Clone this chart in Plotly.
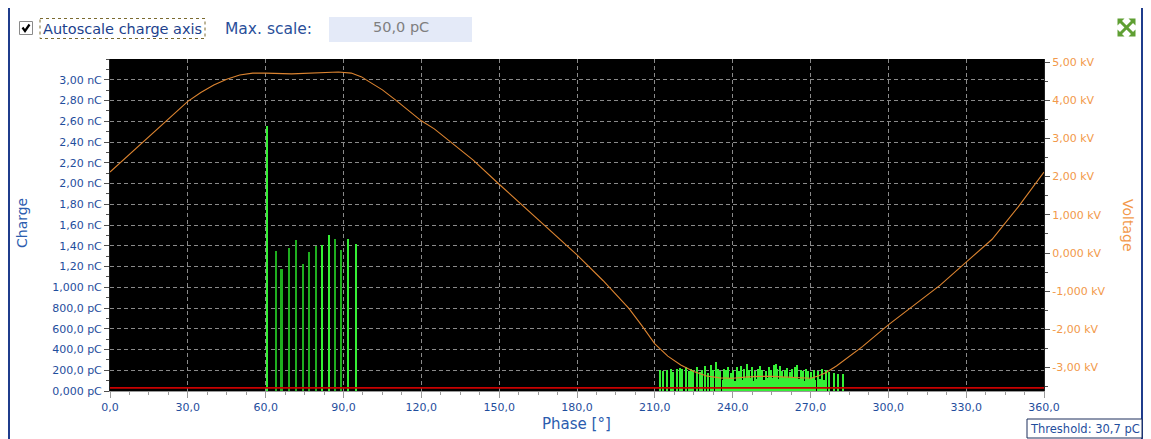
import plotly.graph_objects as go

# ---------------- data ----------------
# Phase axis ticks
phase_ticks = [0, 30, 60, 90, 120, 150, 180, 210, 240, 270, 300, 330, 360]
phase_labels = ["0,0", "30,0", "60,0", "90,0", "120,0", "150,0", "180,0",
                "210,0", "240,0", "270,0", "300,0", "330,0", "360,0"]

# Charge axis ticks (pC)
charge_ticks = [0, 200, 400, 600, 800, 1000, 1200, 1400, 1600, 1800,
                2000, 2200, 2400, 2600, 2800, 3000]
charge_labels = ["0,000 pC", "200,0 pC", "400,0 pC", "600,0 pC", "800,0 pC",
                 "1,000 nC", "1,20 nC", "1,40 nC", "1,60 nC", "1,80 nC",
                 "2,00 nC", "2,20 nC", "2,40 nC", "2,60 nC", "2,80 nC", "3,00 nC"]

# Voltage axis ticks (kV)
voltage_ticks = [-3, -2, -1, 0, 1, 2, 3, 4, 5]
voltage_labels = ["-3,00 kV", "-2,00 kV", "-1,000 kV", "0,000 kV", "1,000 kV",
                  "2,00 kV", "3,00 kV", "4,00 kV", "5,00 kV"]

# Test voltage over one cycle (phase in deg, kV)
volt_phase = [0, 5, 10, 15, 20, 25, 30, 35, 40, 45, 50, 55, 60, 70, 80, 88, 93,
              97, 100, 105, 110, 115, 120, 125, 130, 140, 150, 160, 170, 180,
              190, 200, 205, 210, 215, 220, 225, 230, 235, 240, 245, 250, 255,
              260, 265, 270, 273, 276, 280, 285, 290, 300, 310, 320, 330, 340,
              350, 360]
volt_kv = [2.12, 2.43, 2.72, 3.03, 3.35, 3.67, 3.97, 4.20, 4.40, 4.55, 4.66,
           4.71, 4.71, 4.69, 4.71, 4.74, 4.71, 4.61, 4.48, 4.27, 4.01, 3.74,
           3.46, 3.25, 2.98, 2.43, 1.80, 1.18, 0.57, -0.05, -0.72, -1.45,
           -1.90, -2.38, -2.70, -2.93, -3.10, -3.22, -3.27, -3.28, -3.25,
           -3.23, -3.23, -3.25, -3.27, -3.28, -3.22, -3.13, -2.96, -2.70,
           -2.45, -1.88, -1.36, -0.84, -0.24, 0.36, 1.20, 2.12]

# PD pulses in the positive half-cycle (phase deg, charge pC)
pos_phase_bright = [60.7, 81.8, 84.5, 91.9, 94.8]
pos_charge_bright = [2554, 1404, 1501, 1465, 1417]
pos_phase_dim = [63.9, 66.2, 69.0, 71.7, 74.4, 76.7, 79.6, 86.9, 89.1]
pos_charge_dim = [1347, 1176, 1375, 1455, 1224, 1337, 1398, 1465, 1359]

# PD pulses in the negative half-cycle
neg_phase = [212.1, 213.3, 214.6, 216.2, 217.2, 218.4, 219.6, 220.6, 221.9,
             223.0, 223.9, 224.8, 226.1, 227.4, 228.3, 229.3, 230.6, 231.6,
             232.5, 233.4, 234.3, 235.3, 236.6, 237.5, 238.4, 239.3, 240.3,
             241.5, 242.5, 243.4, 244.4, 245.7, 246.5, 247.6, 248.5, 249.6,
             250.6, 251.4, 252.7, 254.0, 254.9, 255.9, 256.6, 257.2, 258.2,
             259.1, 260.0, 261.1, 262.1, 263.0, 263.9, 264.9, 266.2, 267.3,
             268.2, 269.1, 270.1, 271.4, 272.9, 274.5, 275.8, 277.3, 279.0,
             280.7, 282.5]
neg_charge = [205, 195, 198, 215, 185, 210, 225, 215, 235, 190, 215, 200, 230,
              185, 205, 240, 175, 250, 200, 275, 215, 195, 215, 200, 230, 170,
              205, 235, 195, 245, 215, 265, 200, 235, 190, 215, 240, 205, 190,
              235, 200, 250, 265, 215, 240, 195, 205, 225, 180, 215, 235, 250,
              205, 195, 215, 190, 185, 205, 195, 215, 200, 185, 175, 160, 165]
neg_low_phase = [236.1, 237.0, 237.9, 238.8, 239.8, 240.8, 241.9, 243.0, 243.9,
                 244.9, 246.1, 247.1, 248.0, 249.1, 250.1, 251.0, 252.0, 253.3,
                 254.4, 255.4, 257.7, 258.7, 259.6, 260.5, 261.6, 262.6, 263.4,
                 264.4, 265.5, 266.7, 267.8, 268.7, 269.6, 270.7, 271.9, 273.6,
                 275.1]
neg_low_charge = [110, 125, 100, 130, 115, 95, 120, 135, 105, 125, 110, 130,
                  100, 120, 135, 115, 105, 125, 110, 130, 120, 100, 135, 115,
                  125, 105, 130, 110, 120, 135, 100, 125, 115, 130, 110, 120,
                  105]

threshold_pc = 30.7

# ---------------- layout geometry ----------------
W, H = 1151, 439
L, R, T, B = 110, 107, 59, 48
PW, PH = W - L - R, H - T - B

BLUE = "#1f4e9d"
DARKBLUE = "#1c3f8c"
ORANGE = "#f2994a"
BRIGHT = "#35ef35"
DIM = "#1fae1f"
FONT = "DejaVu Sans"


def fx(px):
    return (px - L) / PW


def fy(py):
    return (H - B - py) / PH


fig = go.Figure()

fig.add_trace(go.Bar(x=pos_phase_dim, y=pos_charge_dim, width=0.6,
                     marker=dict(color=DIM, line=dict(width=0))))
fig.add_trace(go.Bar(x=pos_phase_bright, y=pos_charge_bright, width=0.6,
                     marker=dict(color=BRIGHT, line=dict(width=0))))
fig.add_trace(go.Bar(x=neg_phase, y=neg_charge, width=0.42,
                     marker=dict(color=BRIGHT, line=dict(width=0))))
fig.add_trace(go.Bar(x=neg_low_phase, y=neg_low_charge, width=0.42,
                     marker=dict(color=BRIGHT, line=dict(width=0))))

# threshold level
fig.add_trace(go.Scatter(x=[0, 360], y=[threshold_pc, threshold_pc],
                         mode="lines", line=dict(color="#c80000", width=1.8)))

# voltage waveform on the secondary axis
fig.add_trace(go.Scatter(x=volt_phase, y=volt_kv, yaxis="y2", mode="lines",
                         line=dict(color="#dc8430", width=1.1)))

grid = dict(showgrid=True, gridcolor="#8a8a8a", griddash="4px,3px", gridwidth=1)

fig.update_layout(
    width=W, height=H, autosize=False,
    margin=dict(l=L, r=R, t=T, b=B, pad=0),
    paper_bgcolor="white", plot_bgcolor="black",
    showlegend=False, barmode="overlay", bargap=0,
    font=dict(family=FONT, size=11, color=BLUE),
    xaxis=dict(range=[0, 360], tickmode="array", tickvals=phase_ticks,
               ticktext=phase_labels, ticks="outside", ticklen=6,
               tickcolor="#9a9a9a", showline=True, linecolor="#9a9a9a",
               zeroline=False, tickfont=dict(color=BLUE, size=11, family=FONT),
               minor=dict(tickmode="linear", tick0=0, dtick=7.5, ticklen=3,
                          tickcolor="#9a9a9a", showgrid=False),
               **grid),
    yaxis=dict(range=[0, 3200], tickmode="array", tickvals=charge_ticks,
               ticktext=charge_labels, ticks="outside", ticklen=5,
               tickcolor="#505050", showline=True, linecolor="#202020",
               zeroline=False, tickfont=dict(color=BLUE, size=11, family=FONT),
               minor=dict(tickmode="linear", tick0=0, dtick=100, ticklen=3,
                          tickcolor="#505050", showgrid=False),
               **grid),
    yaxis2=dict(range=[-3.613, 5.079], overlaying="y", side="right",
                tickmode="array", tickvals=voltage_ticks,
                ticktext=voltage_labels, ticks="outside", ticklen=5,
                tickcolor="#505050", showline=True, linecolor="#202020",
                showgrid=False, zeroline=False,
                tickfont=dict(color=ORANGE, size=11, family=FONT),
                minor=dict(tickmode="linear", tick0=0, dtick=0.5, ticklen=3,
                           tickcolor="#505050")),
)

shapes = []
# panel borders
shapes.append(dict(type="line", xref="paper", yref="paper",
                   x0=fx(9), x1=fx(9), y0=fy(8), y1=fy(439),
                   line=dict(color="#1f3c8c", width=2)))
shapes.append(dict(type="line", xref="paper", yref="paper",
                   x0=fx(1142), x1=fx(1142), y0=fy(8), y1=fy(439),
                   line=dict(color="#1f3c8c", width=2)))
# checkbox
shapes.append(dict(type="rect", xref="paper", yref="paper",
                   x0=fx(19.5), x1=fx(32.5), y0=fy(21.5), y1=fy(34.5),
                   fillcolor="white", line=dict(color="#8a8a8a", width=1)))
shapes.append(dict(type="path", xref="paper", yref="paper",
                   path="M {},{} L {},{} L {},{}".format(
                       fx(22.5), fy(27.5), fx(25), fy(31), fx(29.5), fy(24.5)),
                   line=dict(color="black", width=2.2)))
# focus rectangle around the checkbox caption
shapes.append(dict(type="rect", xref="paper", yref="paper",
                   x0=fx(40), x1=fx(205), y0=fy(18.5), y1=fy(38.5),
                   line=dict(color="#7a6a30", width=1, dash="dot")))
# max scale field
shapes.append(dict(type="rect", xref="paper", yref="paper",
                   x0=fx(329), x1=fx(472), y0=fy(17), y1=fy(42),
                   fillcolor="#e4eaf8", line=dict(width=0)))
# threshold box
shapes.append(dict(type="rect", xref="paper", yref="paper",
                   x0=fx(1027), x1=fx(1142), y0=fy(419), y1=fy(438),
                   fillcolor="white", line=dict(color="#1c2f5c", width=1)))
# expand icon
GREEN = "#5f9f33"
shapes.append(dict(type="line", xref="paper", yref="paper",
                   x0=fx(1120), y0=fy(21), x1=fx(1133), y1=fy(34),
                   line=dict(color=GREEN, width=3)))
shapes.append(dict(type="line", xref="paper", yref="paper",
                   x0=fx(1133), y0=fy(21), x1=fx(1120), y1=fy(34),
                   line=dict(color=GREEN, width=3)))
for cx, cy, dx, dy in [(1117.5, 18.5, 1, 1), (1135.5, 18.5, -1, 1),
                       (1117.5, 36.5, 1, -1), (1135.5, 36.5, -1, -1)]:
    shapes.append(dict(type="path", xref="paper", yref="paper",
                       path="M {},{} L {},{} L {},{} Z".format(
                           fx(cx), fy(cy), fx(cx + 7 * dx), fy(cy),
                           fx(cx), fy(cy + 7 * dy)),
                       fillcolor=GREEN, line=dict(color=GREEN, width=0)))
fig.update_layout(shapes=shapes)

annotations = [
    dict(text="Autoscale charge axis", x=fx(41), y=fy(29.3), xanchor="left",
         yanchor="middle", font=dict(size=14.5, color=DARKBLUE, family=FONT)),
    dict(text="Max. scale:", x=fx(223), y=fy(29.3), xanchor="left",
         yanchor="middle", font=dict(size=15.5, color="#2a4f9a", family=FONT)),
    dict(text="50,0 pC", x=fx(401), y=fy(27), xanchor="center",
         yanchor="middle", font=dict(size=14.5, color="#7f7f7f", family=FONT)),
    dict(text="Charge", x=fx(22), y=fy(223), xanchor="center",
         yanchor="middle", textangle=-90,
         font=dict(size=14, color="#2b5cae", family=FONT)),
    dict(text="Voltage", x=fx(1128), y=fy(225), xanchor="center",
         yanchor="middle", textangle=90,
         font=dict(size=14, color=ORANGE, family=FONT)),
    dict(text="Phase [°]", x=fx(576), y=fy(424), xanchor="center",
         yanchor="middle", font=dict(size=15, color="#2b5cae", family=FONT)),
    dict(text="Threshold: 30,7 pC", x=fx(1084.5), y=fy(428.5),
         xanchor="center", yanchor="middle",
         font=dict(size=11.5, color=BLUE, family=FONT)),
]
for a in annotations:
    a.update(xref="paper", yref="paper", showarrow=False)
fig.update_layout(annotations=annotations)

fig.write_html("out.html")
